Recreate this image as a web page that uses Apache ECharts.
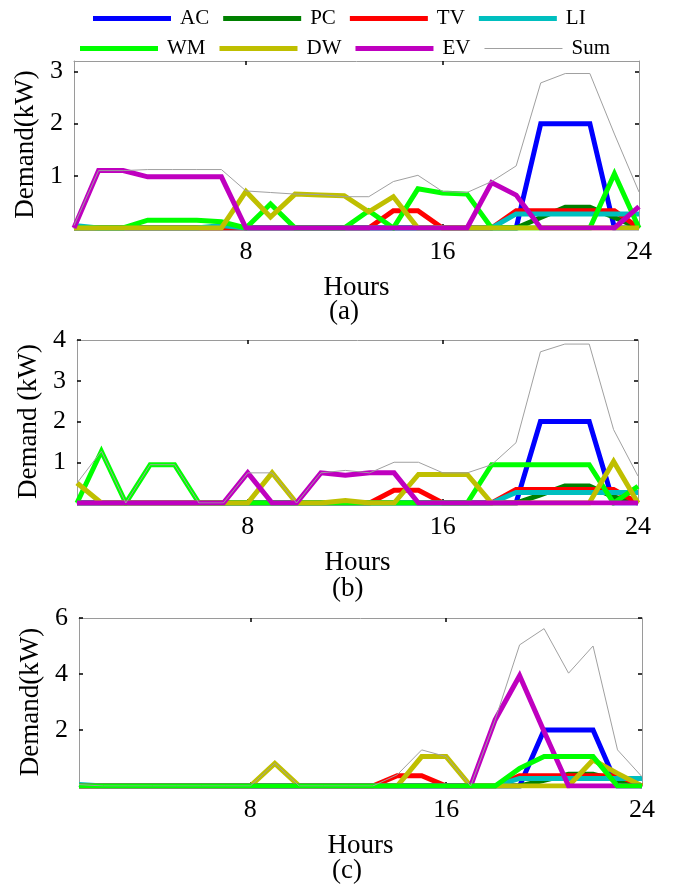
<!DOCTYPE html>
<html>
<head>
<meta charset="utf-8">
<script src="https://cdn.jsdelivr.net/npm/echarts@6/dist/echarts.min.js"></script>
<style>
html,body{margin:0;padding:0;background:#fff;}
#chart{width:673px;height:889px;}
</style>
</head>
<body>
<div id="chart"></div>
<script>
// ---------- DATA ----------
const hours = [1,2,3,4,5,6,7,8,9,10,11,12,13,14,15,16,17,18,19,20,21,22,23,24];
const seriesNames = ['AC','PC','TV','LI','WM','DW','EV','Sum'];
const xTickValues = [8,16,24];
const panelLabels = ['(a)','(b)','(c)'];
const yTicksA = [1,2,3];
const yTicksB = [1,2,3,4];
const yTicksC = [2,4,6];

// Panel (a)
const AC_a  = [0,0,0,0,0,0,0,0,0,0,0,0,0,0,0,0,0,0,0,2,2,2,0,0];
const PC_a  = [0,0,0,0,0,0,0,0,0,0,0,0,0,0,0,0,0,0,0,0.2,0.4,0.4,0.2,0];
const TV_a  = [0,0,0,0,0,0,0,0,0,0,0,0,0,0.33,0.33,0,0,0,0.33,0.33,0.33,0.33,0.33,0];
const LI_a  = [0.05,0,0,0,0,0,0.05,0,0,0,0,0,0,0,0,0,0,0,0.27,0.27,0.27,0.27,0.27,0.27];
const WM_a  = [0,0,0,0.15,0.15,0.15,0.12,0,0.46,0,0,0,0.33,0,0.75,0.67,0.65,0,0,0,0,0,1.04,0];
const DW_a  = [0,0,0,0,0,0,0,0.7,0.21,0.65,0.63,0.62,0.31,0.6,0,0,0,0,0,0,0,0,0,0];
const EV_a  = [0,1.1,1.1,0.98,0.98,0.98,0.98,0,0,0,0,0,0,0,0,0,0,0.87,0.63,0,0,0,0,0.41];
const Sum_a = [0.05,1.1,1.1,1.12,1.12,1.12,1.12,0.71,0.68,0.65,0.64,0.6,0.6,0.89,1.01,0.7,0.68,0.89,1.19,2.78,2.96,2.96,1.8,0.69];

// Panel (b)
const AC_b  = [0,0,0,0,0,0,0,0,0,0,0,0,0,0,0,0,0,0,0,2,2,2,0,0];
const PC_b  = [0,0,0,0,0,0,0,0,0,0,0,0,0,0,0,0,0,0,0,0.2,0.42,0.42,0.15,0];
const TV_b  = [0,0,0,0,0,0,0,0,0,0,0,0,0,0.31,0.31,0,0,0,0.33,0.33,0.33,0.33,0.33,0];
const LI_b  = [0,0,0,0,0,0,0,0,0,0,0,0,0,0,0,0,0,0,0.26,0.26,0.26,0.26,0.26,0.26];
const WM_b  = [0,1.27,0,0.94,0.94,0,0,0,0,0,0,0,0,0,0,0,0,0.94,0.94,0.94,0.94,0.94,0,0.41];
const DW_b  = [0.49,0,0,0,0,0,0,0,0.74,0,0,0.06,0,0,0.7,0.7,0.7,0,0,0,0,0,1.02,0];
const EV_b  = [0,0,0,0,0,0,0,0.74,0,0,0.74,0.68,0.74,0.74,0,0,0,0,0,0,0,0,0,0];
const Sum_b = [0.49,1.27,0,0.94,0.94,0,0,0.74,0.74,0,0.74,0.8,0.74,1.0,1.0,0.74,0.74,0.94,1.48,3.71,3.9,3.9,1.8,0.66];

// Panel (c)
const AC_c  = [0,0,0,0,0,0,0,0,0,0,0,0,0,0,0,0,0,0,0,2,2,2,0,0];
const PC_c  = [0,0,0,0,0,0,0,0,0,0,0,0,0,0,0,0,0,0,0,0.2,0.42,0.42,0.2,0];
const TV_c  = [0,0,0,0,0,0,0,0,0,0,0,0,0,0.37,0.37,0,0,0,0.37,0.37,0.37,0.37,0.37,0];
const LI_c  = [0.05,0,0,0,0,0,0,0,0,0,0,0,0,0,0,0,0,0,0.27,0.27,0.27,0.27,0.27,0.27];
const WM_c  = [0,0,0,0,0,0,0,0,0,0,0,0,0,0,0,0,0,0,0.63,1.05,1.05,1.05,0,0];
const DW_c  = [0,0,0,0,0,0,0,0,0.81,0,0,0,0,0,1.05,1.05,0,0,0,0,0,0.93,0.45,0];
const EV_c  = [0,0,0,0,0,0,0,0,0,0,0,0,0,0,0,0,0,2.36,3.94,1.95,0,0,0,0];
const Sum_c = [0.05,0,0,0,0,0,0,0,0.81,0,0,0,0,0.4,1.29,1.05,0,2.36,5.04,5.62,4.03,5.0,1.29,0.33];

// ---------- STYLE ----------
const colors = {AC:'#0000ff', PC:'#008000', TV:'#ff0000', LI:'#00bfbf', WM:'#00ff00', DW:'#bfbf00', EV:'#bf00bf', Sum:'#a0a0a0'};
const FONT = 'Liberation Serif';

const panels = [
  {data:{AC:AC_a,PC:PC_a,TV:TV_a,LI:LI_a,WM:WM_a,DW:DW_a,EV:EV_a,Sum:Sum_a}, max:3.2, yTicks:yTicksA, yName:'Demand(kW)',
   grid:{left:74, top:61, width:565, height:167}, nameGapY:35, labelPos:[347,313], wmTop:false},
  {data:{AC:AC_b,PC:PC_b,TV:TV_b,LI:LI_b,WM:WM_b,DW:DW_b,EV:EV_b,Sum:Sum_b}, max:4, yTicks:yTicksB, yName:'Demand (kW)',
   grid:{left:77, top:340, width:561, height:163}, nameGapY:34, labelPos:[350,590], wmTop:false},
  {data:{AC:AC_c,PC:PC_c,TV:TV_c,LI:LI_c,WM:WM_c,DW:DW_c,EV:EV_c,Sum:Sum_c}, max:6, yTicks:yTicksC, yName:'Demand(kW)',
   grid:{left:79, top:618, width:563, height:168}, nameGapY:34, labelPos:[350,872], wmTop:true}
];

const grids=[], xAxes=[], yAxes=[], series=[], graphics=[];
const frameColor = '#9a9a9a';
panels.forEach((p,i)=>{
  grids.push(Object.assign({containLabel:false}, p.grid));
  const topTicks = xTickValues.filter(v=>v<24);
  xAxes.push({type:'value', gridIndex:i, min:1, max:24, position:'bottom',
    axisLine:{show:true, onZero:false, lineStyle:{color:frameColor, width:1}},
    axisTick:{show:true, inside:true, length:4, customValues:topTicks, lineStyle:{color:'#000', width:1.5}},
    axisLabel:{show:true, customValues:xTickValues, margin:11, color:'#000', fontSize:26, fontFamily:FONT},
    splitLine:{show:false},
    name:'Hours', nameLocation:'middle', nameGap:46,
    nameTextStyle:{color:'#000', fontSize:27, fontFamily:FONT}});
  xAxes.push({type:'value', gridIndex:i, min:1, max:24, position:'top',
    axisLine:{show:true, onZero:false, lineStyle:{color:frameColor, width:1}},
    axisTick:{show:true, inside:true, length:4, customValues:topTicks, lineStyle:{color:'#000', width:1.5}},
    axisLabel:{show:false}, splitLine:{show:false}});
  yAxes.push({type:'value', gridIndex:i, min:0, max:p.max, position:'left',
    axisLine:{show:true, onZero:false, lineStyle:{color:frameColor, width:1}},
    axisTick:{show:true, inside:true, length:4, customValues:p.yTicks, lineStyle:{color:'#000', width:1.5}},
    axisLabel:{show:true, customValues:p.yTicks, margin:11, color:'#000', fontSize:26, fontFamily:FONT},
    splitLine:{show:false},
    name:p.yName, nameLocation:'middle', nameGap:p.nameGapY,
    nameTextStyle:{color:'#000', fontSize:27, fontFamily:FONT}});
  yAxes.push({type:'value', gridIndex:i, min:0, max:p.max, position:'right',
    axisLine:{show:true, onZero:false, lineStyle:{color:frameColor, width:1}},
    axisTick:{show:true, inside:true, length:4, customValues:p.yTicks, lineStyle:{color:'#000', width:1.5}},
    axisLabel:{show:false}, splitLine:{show:false}});
  seriesNames.forEach((nm,k)=>{
    const vals = p.data[nm];
    let z = 2 + k*0.01;
    if (nm==='Sum') z = 4;
    if (nm==='WM' && p.wmTop) z = 3;
    series.push({type:'line', name:nm, xAxisIndex:2*i, yAxisIndex:2*i,
      data: hours.map((h,j)=>[h, vals[j]]),
      symbol:'none', showSymbol:false, smooth:false, z:z, clip:true,
      lineStyle:{color:colors[nm], width: nm==='Sum'?1:5, cap:'butt', join:'miter'},
      itemStyle:{color:colors[nm]},
      emphasis:{disabled:true}});
  });
  graphics.push({type:'text', left:p.labelPos[0]-18, top:p.labelPos[1]-15,
    style:{text:panelLabels[i], font:'27px "'+FONT+'"', fill:'#000'}});
});

const thinIcon = 'path://M0,0H80V1H0Z';
const legendCommon = {orient:'horizontal', itemWidth:78, itemHeight:5, itemGap:14,
  symbolKeepAspect:true,
  itemStyle:{borderWidth:0},
  textStyle:{color:'#000', fontSize:21, fontFamily:FONT, padding:[0,0,0,4]},
  selectedMode:false};

const option = {
  animation:false,
  backgroundColor:'#fff',
  grid: grids,
  xAxis: xAxes,
  yAxis: yAxes,
  legend: [
    Object.assign({}, legendCommon, {data:['AC','PC','TV','LI'].map(n=>({name:n, icon:'rect'})), left:88, top:3}),
    Object.assign({}, legendCommon, {data:['WM','DW','EV'].map(n=>({name:n, icon:'rect'})).concat([{name:'Sum', icon:thinIcon}]), left:75, top:33})
  ],
  graphic: graphics,
  series: series
};
const chart = echarts.init(document.getElementById('chart'), null, {renderer:'canvas'});
chart.setOption(option);
</script>
</body>
</html>
